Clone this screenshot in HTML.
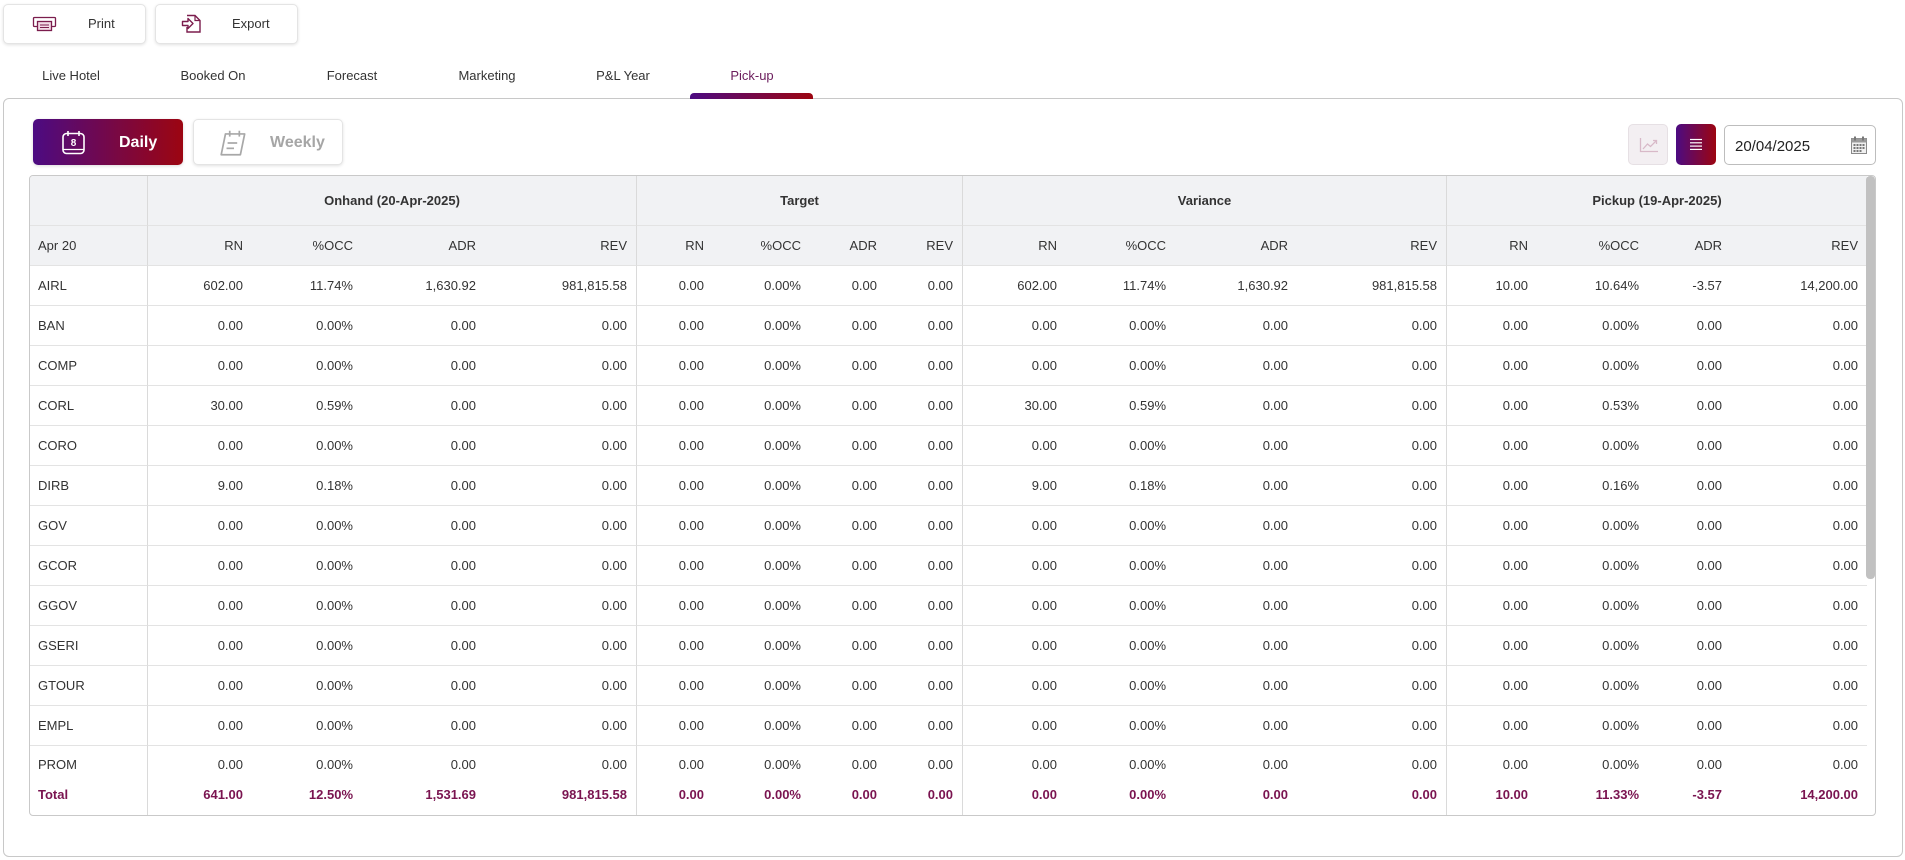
<!DOCTYPE html>
<html>
<head>
<meta charset="utf-8">
<style>
*{box-sizing:border-box;}
html,body{margin:0;padding:0;}
body{width:1905px;height:860px;background:#fff;position:relative;overflow:hidden;font-family:"Liberation Sans",Arial,sans-serif;color:#333;font-size:13px;}
.btn{position:absolute;background:#fff;border:1px solid #e4e4e4;border-radius:5px;box-shadow:0 1px 3px rgba(0,0,0,.12);}
.btn span{position:absolute;top:0;line-height:38px;font-size:13px;color:#333;}
.tab{position:absolute;top:67px;width:200px;text-align:center;font-size:13px;line-height:18px;color:#333;}
.container{position:absolute;left:3px;top:98px;width:1900px;height:759px;border:1px solid #c8c8c8;border-radius:6px;}
.grad{background:linear-gradient(90deg,#4c0b82 0%,#9c0511 100%);}
.tbl{position:absolute;left:29px;top:175px;width:1847px;height:641px;border:1px solid #c9c9c9;border-radius:4px;overflow:hidden;background:#fff;}
table{border-collapse:separate;border-spacing:0;table-layout:fixed;width:1837px;}
td{padding:0 9px;font-size:13px;text-align:right;border-bottom:1px solid #e3e3e3;white-space:nowrap;overflow:hidden;color:#333;}
td.l{text-align:left;padding-left:8px;}
td.g{border-left:1px solid #dadada;}
tr.hd td{background:#f1f2f4;}
tr.h1 td{text-align:center;font-weight:bold;}
tr.h1{height:50px;}
tr.h2{height:40px;}
tr.d{height:40px;}
tr.pr{height:28px;}
tr.pr td{border-bottom:none;vertical-align:top;padding-top:10px;line-height:18px;}
tr.tot{height:41px;}
tr.tot td{border-bottom:none;font-weight:bold;color:#7a1450;}
.sb{position:absolute;right:0;top:0;width:9px;height:403px;background:#c1c1c1;border-radius:4px;}
</style>
</head>
<body>

<!-- Top buttons -->
<div class="btn" style="left:3px;top:4px;width:143px;height:40px;">
  <svg style="position:absolute;left:28px;top:8px" width="26" height="20" viewBox="0 0 26 20">
    <rect x="1.5" y="4.5" width="22" height="9" rx="1" fill="none" stroke="#7b1d4d" stroke-width="1.3"/>
    <rect x="5.5" y="8.5" width="14" height="9" fill="#f3dbe6" stroke="#7b1d4d" stroke-width="1.3"/>
    <line x1="8" y1="12" x2="17" y2="12" stroke="#7b1d4d" stroke-width="1"/>
    <line x1="8" y1="14.5" x2="17" y2="14.5" stroke="#7b1d4d" stroke-width="1"/>
  </svg>
  <span style="left:84px;">Print</span>
</div>
<div class="btn" style="left:155px;top:4px;width:143px;height:40px;">
  <svg style="position:absolute;left:25px;top:7px" width="22" height="22" viewBox="0 0 22 22">
    <path d="M6 3.5 H14 L19 8.5 V20 H6 V15" fill="none" stroke="#7b1d4d" stroke-width="1.4"/>
    <path d="M14 3.5 V8.5 H19" fill="none" stroke="#7b1d4d" stroke-width="1.2"/>
    <path d="M1.5 9.5 H7 V6.5 L12 11.5 L7 16.5 V13.5 H1.5 Z" fill="none" stroke="#7b1d4d" stroke-width="1.4" stroke-linejoin="round"/>
  </svg>
  <span style="left:76px;">Export</span>
</div>

<!-- Tabs -->
<div class="tab" style="left:-29px;">Live Hotel</div>
<div class="tab" style="left:113px;">Booked On</div>
<div class="tab" style="left:252px;">Forecast</div>
<div class="tab" style="left:387px;">Marketing</div>
<div class="tab" style="left:523px;">P&amp;L Year</div>
<div class="tab" style="left:652px;color:#6b1d5c;">Pick-up</div>

<div class="container"></div>
<div class="grad" style="position:absolute;left:690px;top:93px;width:123px;height:6px;border-radius:4px 4px 0 0;"></div>

<!-- Daily / Weekly -->
<div class="grad" style="position:absolute;left:33px;top:119px;width:150px;height:46px;border-radius:5px;box-shadow:0 1px 3px rgba(0,0,0,.15);">
  <svg style="position:absolute;left:28px;top:11px" width="26" height="25" viewBox="0 0 26 25">
    <rect x="2" y="3.5" width="21" height="20" rx="3.5" fill="none" stroke="#fff" stroke-width="1.6"/>
    <line x1="7" y1="1" x2="7" y2="6" stroke="#fff" stroke-width="1.6"/>
    <line x1="18" y1="1" x2="18" y2="6" stroke="#fff" stroke-width="1.6"/>
    <line x1="2" y1="19.5" x2="23" y2="19.5" stroke="#fff" stroke-width="1.3"/>
    <text x="12.5" y="16" text-anchor="middle" font-family="Liberation Sans, sans-serif" font-size="10" font-weight="bold" fill="#fff">8</text>
  </svg>
  <div style="position:absolute;left:86px;top:1px;line-height:46px;font-size:16px;font-weight:bold;color:#fff;">Daily</div>
</div>
<div class="btn" style="left:193px;top:119px;width:150px;height:46px;">
  <svg style="position:absolute;left:24px;top:9px" width="32" height="28" viewBox="0 0 30 26">
    <path d="M7 4.5 H25 L21 24 H3 Z" fill="none" stroke="#a8a8a8" stroke-width="1.6" stroke-linejoin="round"/>
    <line x1="11" y1="1.5" x2="11" y2="7" stroke="#a8a8a8" stroke-width="1.6"/>
    <line x1="20" y1="1.5" x2="20" y2="7" stroke="#a8a8a8" stroke-width="1.6"/>
    <line x1="9" y1="13" x2="18" y2="13" stroke="#a8a8a8" stroke-width="1.6"/>
    <line x1="8" y1="18" x2="15" y2="18" stroke="#a8a8a8" stroke-width="1.6"/>
  </svg>
  <div style="position:absolute;left:76px;top:1px;line-height:44px;font-size:16px;font-weight:bold;color:#a6a6a6;">Weekly</div>
</div>

<!-- Right controls -->
<div style="position:absolute;left:1628px;top:124px;width:40px;height:41px;background:#f3eff2;border:1px solid #e6e0e4;border-radius:5px;">
  <svg style="position:absolute;left:10px;top:12px" width="20" height="16" viewBox="0 0 20 16">
    <path d="M1.5 1 V14.5 H19" fill="none" stroke="#d8b9c8" stroke-width="1.3"/>
    <path d="M4 12 L8.5 7 L11.5 9.5 L17 4" fill="none" stroke="#d8b9c8" stroke-width="1.3"/>
    <path d="M14 3.5 H17.5 V7" fill="none" stroke="#d8b9c8" stroke-width="1.3"/>
  </svg>
</div>
<div class="grad" style="position:absolute;left:1676px;top:124px;width:40px;height:41px;border-radius:5px;">
  <svg style="position:absolute;left:13px;top:14px" width="14" height="13" viewBox="0 0 14 13">
    <line x1="1" y1="1.5" x2="13" y2="1.5" stroke="#fff" stroke-width="1.2"/>
    <line x1="1" y1="4.8" x2="13" y2="4.8" stroke="#fff" stroke-width="1.2"/>
    <line x1="1" y1="8.1" x2="13" y2="8.1" stroke="#fff" stroke-width="1.2"/>
    <line x1="1" y1="11.4" x2="13" y2="11.4" stroke="#fff" stroke-width="1.2"/>
  </svg>
</div>
<div style="position:absolute;left:1724px;top:125px;width:152px;height:40px;border:1px solid #bdbdbd;border-radius:5px;background:#fff;">
  <div style="position:absolute;left:10px;top:2px;line-height:38px;font-size:15px;color:#222;">20/04/2025</div>
  <svg style="position:absolute;left:126px;top:10px" width="16" height="18" viewBox="0 0 16 18">
    <rect x="0.5" y="2.5" width="15" height="15" fill="#f0f0f0" stroke="#8a8a8a" stroke-width="1"/>
    <rect x="0.5" y="2.5" width="15" height="4" fill="#9a9a9a"/>
    <rect x="3" y="0.5" width="2" height="4" fill="#777"/>
    <rect x="11" y="0.5" width="2" height="4" fill="#777"/>
    <g fill="#777">
      <rect x="2.5" y="8" width="2" height="2"/><rect x="5.5" y="8" width="2" height="2"/><rect x="8.5" y="8" width="2" height="2"/><rect x="11.5" y="8" width="2" height="2"/>
      <rect x="2.5" y="11" width="2" height="2"/><rect x="5.5" y="11" width="2" height="2"/><rect x="8.5" y="11" width="2" height="2"/><rect x="11.5" y="11" width="2" height="2"/>
      <rect x="2.5" y="14" width="2" height="2"/><rect x="5.5" y="14" width="2" height="2"/><rect x="8.5" y="14" width="2" height="2"/>
    </g>
  </svg>
</div>

<!-- Table -->
<div class="tbl">
<table>
<colgroup>
<col style="width:117px"><col style="width:105px"><col style="width:110px"><col style="width:123px"><col style="width:151px">
<col style="width:77px"><col style="width:97px"><col style="width:76px"><col style="width:76px">
<col style="width:104px"><col style="width:109px"><col style="width:122px"><col style="width:149px">
<col style="width:91px"><col style="width:111px"><col style="width:83px"><col style="width:136px">
</colgroup>
<tr class="hd h1"><td class="l"></td><td class="g" colspan="4">Onhand (20-Apr-2025)</td><td class="g" colspan="4">Target</td><td class="g" colspan="4">Variance</td><td class="g" colspan="4">Pickup (19-Apr-2025)</td></tr>
<tr class="hd h2"><td class="l">Apr 20</td><td class="g">RN</td><td>%OCC</td><td>ADR</td><td>REV</td><td class="g">RN</td><td>%OCC</td><td>ADR</td><td>REV</td><td class="g">RN</td><td>%OCC</td><td>ADR</td><td>REV</td><td class="g">RN</td><td>%OCC</td><td>ADR</td><td>REV</td></tr>
<tr class="d"><td class="l">AIRL</td><td class="g">602.00</td><td>11.74%</td><td>1,630.92</td><td>981,815.58</td><td class="g">0.00</td><td>0.00%</td><td>0.00</td><td>0.00</td><td class="g">602.00</td><td>11.74%</td><td>1,630.92</td><td>981,815.58</td><td class="g">10.00</td><td>10.64%</td><td>-3.57</td><td>14,200.00</td></tr>
<tr class="d"><td class="l">BAN</td><td class="g">0.00</td><td>0.00%</td><td>0.00</td><td>0.00</td><td class="g">0.00</td><td>0.00%</td><td>0.00</td><td>0.00</td><td class="g">0.00</td><td>0.00%</td><td>0.00</td><td>0.00</td><td class="g">0.00</td><td>0.00%</td><td>0.00</td><td>0.00</td></tr>
<tr class="d"><td class="l">COMP</td><td class="g">0.00</td><td>0.00%</td><td>0.00</td><td>0.00</td><td class="g">0.00</td><td>0.00%</td><td>0.00</td><td>0.00</td><td class="g">0.00</td><td>0.00%</td><td>0.00</td><td>0.00</td><td class="g">0.00</td><td>0.00%</td><td>0.00</td><td>0.00</td></tr>
<tr class="d"><td class="l">CORL</td><td class="g">30.00</td><td>0.59%</td><td>0.00</td><td>0.00</td><td class="g">0.00</td><td>0.00%</td><td>0.00</td><td>0.00</td><td class="g">30.00</td><td>0.59%</td><td>0.00</td><td>0.00</td><td class="g">0.00</td><td>0.53%</td><td>0.00</td><td>0.00</td></tr>
<tr class="d"><td class="l">CORO</td><td class="g">0.00</td><td>0.00%</td><td>0.00</td><td>0.00</td><td class="g">0.00</td><td>0.00%</td><td>0.00</td><td>0.00</td><td class="g">0.00</td><td>0.00%</td><td>0.00</td><td>0.00</td><td class="g">0.00</td><td>0.00%</td><td>0.00</td><td>0.00</td></tr>
<tr class="d"><td class="l">DIRB</td><td class="g">9.00</td><td>0.18%</td><td>0.00</td><td>0.00</td><td class="g">0.00</td><td>0.00%</td><td>0.00</td><td>0.00</td><td class="g">9.00</td><td>0.18%</td><td>0.00</td><td>0.00</td><td class="g">0.00</td><td>0.16%</td><td>0.00</td><td>0.00</td></tr>
<tr class="d"><td class="l">GOV</td><td class="g">0.00</td><td>0.00%</td><td>0.00</td><td>0.00</td><td class="g">0.00</td><td>0.00%</td><td>0.00</td><td>0.00</td><td class="g">0.00</td><td>0.00%</td><td>0.00</td><td>0.00</td><td class="g">0.00</td><td>0.00%</td><td>0.00</td><td>0.00</td></tr>
<tr class="d"><td class="l">GCOR</td><td class="g">0.00</td><td>0.00%</td><td>0.00</td><td>0.00</td><td class="g">0.00</td><td>0.00%</td><td>0.00</td><td>0.00</td><td class="g">0.00</td><td>0.00%</td><td>0.00</td><td>0.00</td><td class="g">0.00</td><td>0.00%</td><td>0.00</td><td>0.00</td></tr>
<tr class="d"><td class="l">GGOV</td><td class="g">0.00</td><td>0.00%</td><td>0.00</td><td>0.00</td><td class="g">0.00</td><td>0.00%</td><td>0.00</td><td>0.00</td><td class="g">0.00</td><td>0.00%</td><td>0.00</td><td>0.00</td><td class="g">0.00</td><td>0.00%</td><td>0.00</td><td>0.00</td></tr>
<tr class="d"><td class="l">GSERI</td><td class="g">0.00</td><td>0.00%</td><td>0.00</td><td>0.00</td><td class="g">0.00</td><td>0.00%</td><td>0.00</td><td>0.00</td><td class="g">0.00</td><td>0.00%</td><td>0.00</td><td>0.00</td><td class="g">0.00</td><td>0.00%</td><td>0.00</td><td>0.00</td></tr>
<tr class="d"><td class="l">GTOUR</td><td class="g">0.00</td><td>0.00%</td><td>0.00</td><td>0.00</td><td class="g">0.00</td><td>0.00%</td><td>0.00</td><td>0.00</td><td class="g">0.00</td><td>0.00%</td><td>0.00</td><td>0.00</td><td class="g">0.00</td><td>0.00%</td><td>0.00</td><td>0.00</td></tr>
<tr class="d"><td class="l">EMPL</td><td class="g">0.00</td><td>0.00%</td><td>0.00</td><td>0.00</td><td class="g">0.00</td><td>0.00%</td><td>0.00</td><td>0.00</td><td class="g">0.00</td><td>0.00%</td><td>0.00</td><td>0.00</td><td class="g">0.00</td><td>0.00%</td><td>0.00</td><td>0.00</td></tr>
<tr class="pr"><td class="l">PROM</td><td class="g">0.00</td><td>0.00%</td><td>0.00</td><td>0.00</td><td class="g">0.00</td><td>0.00%</td><td>0.00</td><td>0.00</td><td class="g">0.00</td><td>0.00%</td><td>0.00</td><td>0.00</td><td class="g">0.00</td><td>0.00%</td><td>0.00</td><td>0.00</td></tr>
<tr class="tot"><td class="l">Total</td><td class="g">641.00</td><td>12.50%</td><td>1,531.69</td><td>981,815.58</td><td class="g">0.00</td><td>0.00%</td><td>0.00</td><td>0.00</td><td class="g">0.00</td><td>0.00%</td><td>0.00</td><td>0.00</td><td class="g">10.00</td><td>11.33%</td><td>-3.57</td><td>14,200.00</td></tr>
</table>
<div class="sb"></div>
</div>

</body>
</html>
